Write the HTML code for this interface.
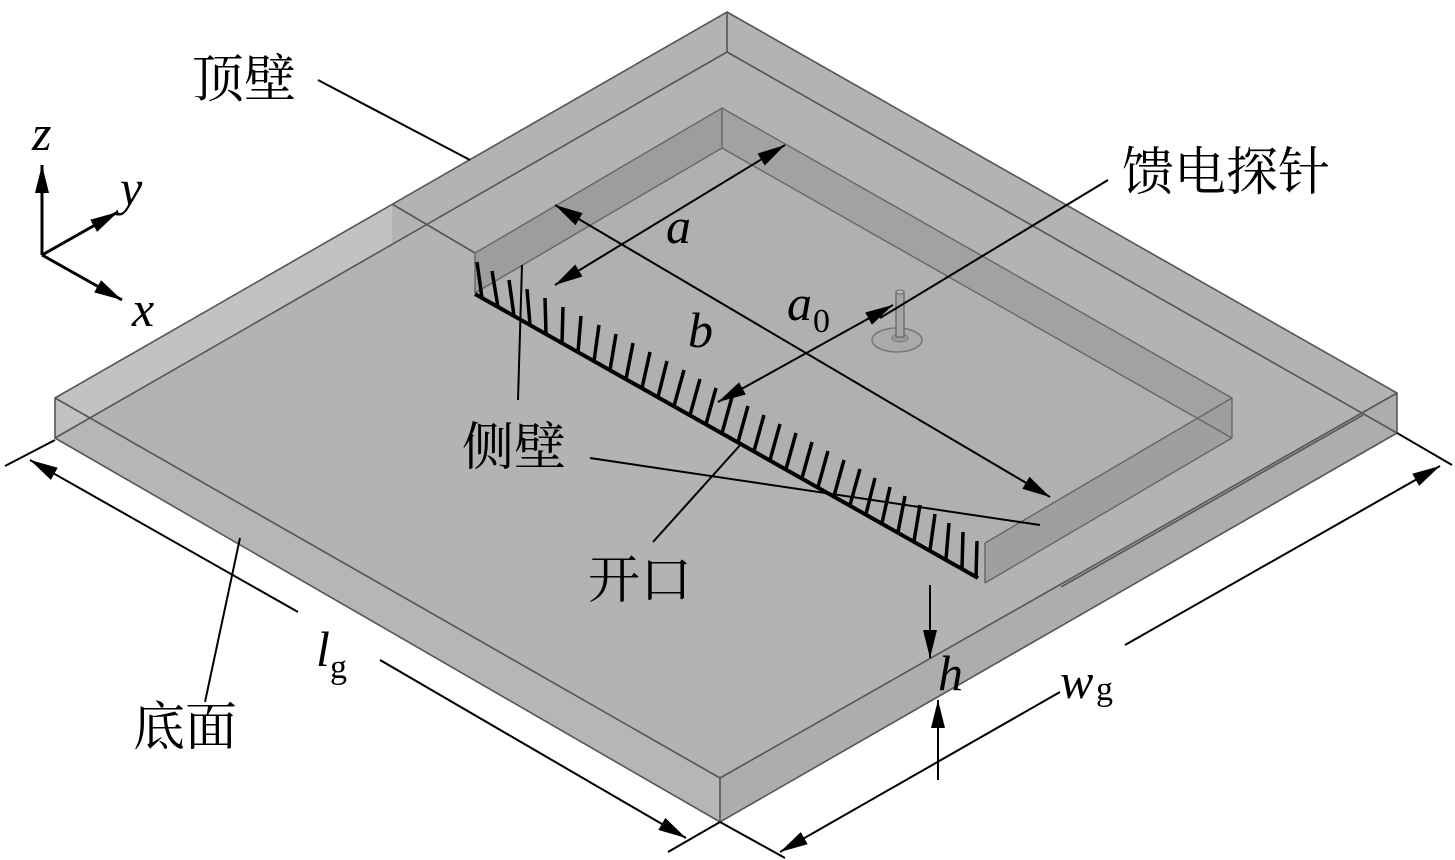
<!DOCTYPE html>
<html><head><meta charset="utf-8"><style>
html,body{margin:0;padding:0;background:#fff;}
svg{display:block}
.cn{font-family:"Liberation Serif","Noto Serif CJK SC",serif;font-size:52px;fill:#000}
.it{font-family:"Liberation Serif",serif;font-style:italic;font-size:50px;fill:#000}
.sub{font-family:"Liberation Serif",serif;font-size:34px;fill:#000}
</style></head><body>
<svg width="1455" height="860" viewBox="0 0 1455 860" xmlns="http://www.w3.org/2000/svg">
<defs>
<marker id="ar" viewBox="0 0 20 10" refX="20" refY="5" markerWidth="28" markerHeight="14" markerUnits="userSpaceOnUse" orient="auto-start-reverse">
<path d="M0,0 L20,5 L0,10 Z" fill="#000"/></marker>
</defs>
<polygon points="727,12 1397,393 720,778 55,398" fill="#b3b3b3"/>
<polygon points="55,398 720,778 720,822 55,438" fill="#b6b6b6"/>
<polygon points="720,778 1397,393 1397,433 720,822" fill="#adadad"/>
<polygon points="392,204 55,398 55,438 392,245" fill="#c2c2c2"/>
<g stroke="#555" stroke-width="1.6" fill="none">
<polygon points="727,12 1397,393 1397,433 720,822 55,438 55,398"/>
<line x1="55" y1="398" x2="720" y2="778"/>
<line x1="720" y1="778" x2="1397" y2="393"/>
<line x1="720" y1="778" x2="720" y2="822"/>
<line x1="727" y1="12" x2="727" y2="52"/>
<line x1="727" y1="52" x2="55" y2="438"/>
<line x1="727" y1="52" x2="1397" y2="433"/>
<line x1="392" y1="204" x2="475" y2="253"/>
<line x1="1363" y1="415" x2="1061" y2="587"/>
</g>
<polygon points="722,108 475,253 475,293 722,148" fill="#9d9d9d"/>
<polygon points="722,108 1232,398 1232,438 722,148" fill="#a2a2a2"/>
<polygon points="722,148 475,293 985,583 1232,438" fill="#b0b0b0"/>
<polygon points="1232,398 985,543 985,583 1232,438" fill="#9f9f9f"/>
<g stroke="#666" stroke-width="1.4" fill="none">
<polyline points="475,293 475,253 722,108 1232,398 1232,438"/>
<line x1="722" y1="108" x2="722" y2="148"/>
<polyline points="475,293 722,148 1232,438"/>
<line x1="1232" y1="398" x2="985" y2="543"/>
<line x1="1232" y1="438" x2="985" y2="583"/>
<line x1="985" y1="543" x2="985" y2="583"/>
</g>
<line x1="475" y1="294" x2="978" y2="578" stroke="#000" stroke-width="4"/>
<g stroke="#000" stroke-width="3.5">
<line x1="482" y1="298" x2="477" y2="262"/><line x1="498" y1="307" x2="492" y2="271"/><line x1="514" y1="316" x2="509" y2="280"/>
<line x1="530" y1="325" x2="527" y2="289"/><line x1="546" y1="334" x2="545" y2="298"/><line x1="562" y1="343" x2="563" y2="307"/>
<line x1="578" y1="352" x2="581" y2="316"/><line x1="594" y1="361" x2="599" y2="325"/><line x1="610" y1="370" x2="616" y2="334"/>
<line x1="626" y1="379" x2="633" y2="343"/><line x1="642" y1="388" x2="650" y2="352"/><line x1="658" y1="397" x2="667" y2="361"/>
<line x1="674" y1="406" x2="684" y2="370"/><line x1="690" y1="415" x2="700" y2="379"/><line x1="706" y1="424" x2="716" y2="388"/>
<line x1="722" y1="433" x2="732" y2="397"/><line x1="738" y1="442" x2="748" y2="406"/><line x1="754" y1="451" x2="764" y2="415"/>
<line x1="770" y1="460" x2="780" y2="424"/><line x1="786" y1="469" x2="796" y2="433"/><line x1="802" y1="478" x2="812" y2="442"/>
<line x1="818" y1="487" x2="828" y2="451"/><line x1="834" y1="496" x2="844" y2="460"/><line x1="850" y1="505" x2="860" y2="469"/>
<line x1="866" y1="514" x2="875" y2="478"/><line x1="882" y1="523" x2="890" y2="487"/><line x1="898" y1="532" x2="905" y2="496"/>
<line x1="914" y1="541" x2="920" y2="505"/><line x1="930" y1="550" x2="935" y2="514"/><line x1="946" y1="559" x2="949" y2="523"/>
<line x1="962" y1="568" x2="963" y2="532"/><line x1="976" y1="576" x2="977" y2="541"/>
</g>
<ellipse cx="897" cy="340" rx="25" ry="12" fill="#aaa" stroke="#777" stroke-width="1.5"/>
<ellipse cx="900" cy="338" rx="8" ry="4" fill="#999" stroke="#777"/>
<rect x="896" y="292" width="8" height="45" fill="#a5a5a5" stroke="#666" stroke-width="1.3"/>
<ellipse cx="900" cy="292" rx="4" ry="2" fill="#bbb" stroke="#666"/>
<g stroke="#000" stroke-width="2" fill="none">
<line x1="785" y1="145" x2="555" y2="285" marker-start="url(#ar)" marker-end="url(#ar)"/>
<line x1="555" y1="205" x2="1050" y2="497" marker-start="url(#ar)" marker-end="url(#ar)"/>
<line x1="893" y1="305" x2="718" y2="402" marker-start="url(#ar)" marker-end="url(#ar)"/>
<line x1="1108" y1="180" x2="880" y2="318"/>
<line x1="318" y1="80" x2="470" y2="160"/>
<line x1="522" y1="265" x2="518" y2="400"/>
<line x1="590" y1="458" x2="1040" y2="525"/>
<line x1="653" y1="542" x2="742" y2="443"/>
<line x1="205" y1="702" x2="240" y2="538"/>
<line x1="55" y1="440" x2="5" y2="466"/>
<line x1="720" y1="822" x2="668" y2="852"/>
<line x1="298" y1="612" x2="30" y2="460" marker-end="url(#ar)"/>
<line x1="380" y1="660" x2="686" y2="838" marker-end="url(#ar)"/>
<line x1="720" y1="822" x2="785" y2="858"/>
<line x1="1397" y1="433" x2="1452" y2="465"/>
<line x1="1125" y1="645" x2="1440" y2="466" marker-end="url(#ar)"/>
<line x1="1060" y1="692" x2="780" y2="852" marker-end="url(#ar)"/>
<line x1="930" y1="585" x2="930" y2="658" marker-end="url(#ar)"/>
<line x1="938" y1="780" x2="938" y2="700" marker-end="url(#ar)"/>
</g>
<g stroke="#000" stroke-width="3" fill="none">
<line x1="42" y1="255" x2="42" y2="165" marker-end="url(#ar)"/>
<line x1="42" y1="255" x2="118" y2="212" marker-end="url(#ar)"/>
<line x1="42" y1="255" x2="122" y2="300" marker-end="url(#ar)"/>
</g>
<text class="it" x="32" y="150">z</text>
<text class="it" x="120" y="205">y</text>
<text class="it" x="132" y="326">x</text>
<text class="cn" x="192" y="97">顶壁</text>
<text class="cn" x="1122" y="190">馈电探针</text>
<text class="cn" x="462" y="465">侧壁</text>
<text class="cn" x="588" y="598">开口</text>
<text class="cn" x="133" y="745">底面</text>
<text class="it" x="666" y="243">a</text>
<text class="it" x="688" y="347">b</text>
<text class="it" x="787" y="320">a</text><text class="sub" x="813" y="332">0</text>
<text class="it" x="316" y="666">l</text><text class="sub" x="330" y="678">g</text>
<text class="it" x="1060" y="698">w</text><text class="sub" x="1096" y="700">g</text>
<text class="it" x="938" y="690">h</text>
</svg>
</body></html>
